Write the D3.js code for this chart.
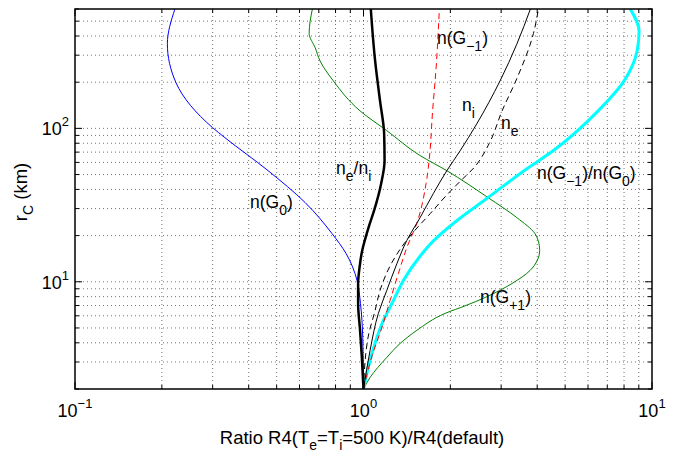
<!DOCTYPE html>
<html><head><meta charset="utf-8">
<script src="https://cdn.jsdelivr.net/npm/d3@7"></script>
<style>
body{margin:0;background:#fff;}
svg text{font-family:"Liberation Sans",Arial,Helvetica,sans-serif;fill:#000;}
</style></head>
<body><svg id="c" width="676" height="454"></svg>
<script>
// r_C values (km) and ratio values for each curve
const nG0_r   = [2, 4.34, 7.22, 10.2, 15.3, 20.6, 32.8, 53, 86.9, 101, 198, 356, 600];
const nG0_x   = [1, 0.994, 0.976, 0.95, 0.87, 0.778, 0.628, 0.467, 0.331, 0.3, 0.224, 0.209, 0.222];

const neni_r  = [2, 3.21, 4.82, 7.22, 9.74, 12.4, 15.3, 23.2, 29.1, 43.6, 61.5, 92.5, 151, 276, 600];
const neni_x  = [1, 0.987, 0.973, 0.958, 0.958, 0.969, 0.985, 1.046, 1.088, 1.151, 1.183, 1.179, 1.141, 1.097, 1.06];

const nGm1_r  = [2, 3.3, 5.0, 7.55, 11.3, 16.7, 24.0, 43.7, 61.6, 130, 248, 600];
const nGm1_x  = [1, 1.071, 1.157, 1.236, 1.321, 1.413, 1.53, 1.648, 1.688, 1.736, 1.785, 1.832];

const ni_r    = [2, 3.57, 6.22, 8.78, 13.1, 18.6, 26.2, 37.6, 53, 71.4, 107, 204, 354, 600];
const ni_x    = [1, 1.054, 1.126, 1.204, 1.305, 1.413, 1.571, 1.746, 1.945, 2.162, 2.469, 2.974, 3.399, 3.789];

const ne_r    = [2, 4.34, 6.5, 8.78, 13.4, 17.7, 20.6, 27.8, 37.6, 45.8, 55.5, 79.5, 130, 213, 415, 600];
const ne_x    = [1, 1.037, 1.097, 1.141, 1.256, 1.382, 1.474, 1.702, 1.965, 2.179, 2.417, 2.725, 3.022, 3.407, 3.881, 4.04];

const ratio_r = [2, 3.08, 5.6, 7.55, 10.2, 14.4, 18.6, 25.1, 35.4, 53, 71.4, 130, 204, 320, 431, 600];
const ratio_x = [1, 1.054, 1.172, 1.27, 1.375, 1.558, 1.754, 2.11, 2.703, 3.603, 4.542, 6.506, 8.005, 8.88, 9.02, 8.4];

const nGp1_r  = [2, 2.38, 3.21, 3.96, 4.82, 6.22, 7.01, 7.9, 9.75, 11.85, 13.76, 16.0, 18.6, 20.6, 26.2, 35.4, 53, 66.5, 96.7, 130, 204, 275, 336, 415, 600];
const nGp1_x  = [1, 1.054, 1.204, 1.339, 1.53, 1.918, 2.268, 2.64, 3.274, 3.78, 4.0, 4.08, 4.03, 3.93, 3.4, 2.7, 1.944, 1.571, 1.204, 0.973, 0.786, 0.707, 0.68, 0.648, 0.665];

const xMajor = [0.1, 1, 10];
const xMajorLabels = ["\u22121", "0", "1"];
const yMajor = [10, 100];
const yMajorLabels = ["1", "2"];

const W = 676, H = 454;
const m = {left: 75, right: 24, top: 9, bottom: 65};
const svg = d3.select("#c");
const x = d3.scaleLog().domain([0.1, 10]).range([m.left, W - m.right]);
const y = d3.scaleLog().domain([2, 600]).range([H - m.bottom, m.top]);

// minor/major tick values
const xTicks = [];
for (const d of [0.1, 1]) for (let k = 1; k <= 9; k++) xTicks.push(d * k);
xTicks.push(10);
const yTicks = [];
for (const d of [1, 10, 100]) for (let k = 1; k <= 9; k++) { const v = d * k; if (v >= 2 && v <= 600) yTicks.push(v); }

const g = svg.append("g");
// grid
g.selectAll(".gx").data(xTicks.filter(v => v > 0.1 && v < 10)).enter().append("line")
  .attr("x1", d => x(d)).attr("x2", d => x(d)).attr("y1", y(2)).attr("y2", y(600))
  .attr("stroke", "#000").attr("stroke-opacity", 0.55).attr("stroke-width", 1).attr("stroke-dasharray", "1,3");
g.selectAll(".gy").data(yTicks.filter(v => v > 2 && v < 600)).enter().append("line")
  .attr("y1", d => y(d)).attr("y2", d => y(d)).attr("x1", x(0.1)).attr("x2", x(10))
  .attr("stroke", "#000").attr("stroke-opacity", 0.55).attr("stroke-width", 1).attr("stroke-dasharray", "1,3");

// curves
const line = (xs, rs) => d3.line().curve(d3.curveMonotoneY)
  .x((d, i) => x(xs[i])).y((d, i) => y(rs[i]))(rs);
const curves = [
  {xs: nG0_x, rs: nG0_r, c: "#0000ff", w: 1, dash: null},
  {xs: nGp1_x, rs: nGp1_r, c: "#007f00", w: 1, dash: null},
  {xs: ratio_x, rs: ratio_r, c: "#00ffff", w: 3, dash: null},
  {xs: nGm1_x, rs: nGm1_r, c: "#ff0000", w: 1, dash: "6,4"},
  {xs: ne_x, rs: ne_r, c: "#000", w: 1, dash: "6,4"},
  {xs: ni_x, rs: ni_r, c: "#000", w: 1, dash: null},
  {xs: neni_x, rs: neni_r, c: "#000", w: 2.5, dash: null}
];
const clip = svg.append("clipPath").attr("id", "clp").append("rect")
  .attr("x", m.left).attr("y", m.top).attr("width", W - m.left - m.right).attr("height", H - m.top - m.bottom);
const cg = svg.append("g").attr("clip-path", "url(#clp)");
curves.forEach(cv => {
  cg.append("path").attr("d", line(cv.xs, cv.rs)).attr("fill", "none")
    .attr("stroke", cv.c).attr("stroke-width", cv.w)
    .attr("stroke-dasharray", cv.dash);
});

// axes box
svg.append("rect").attr("x", m.left).attr("y", m.top).attr("width", W - m.left - m.right)
  .attr("height", H - m.top - m.bottom).attr("fill", "none").attr("stroke", "#000").attr("stroke-width", 1.5);

// ticks (inward, all four sides)
const tl = v => (xMajor.includes(v) ? 7 : 4);
const tg = svg.append("g").attr("stroke", "#000").attr("stroke-width", 1);
xTicks.forEach(v => {
  tg.append("line").attr("x1", x(v)).attr("x2", x(v)).attr("y1", y(2)).attr("y2", y(2) - tl(v));
  tg.append("line").attr("x1", x(v)).attr("x2", x(v)).attr("y1", y(600)).attr("y2", y(600) + tl(v));
});
yTicks.forEach(v => {
  const L = yMajor.includes(v) ? 7 : 4;
  tg.append("line").attr("y1", y(v)).attr("y2", y(v)).attr("x1", x(0.1)).attr("x2", x(0.1) + L);
  tg.append("line").attr("y1", y(v)).attr("y2", y(v)).attr("x1", x(10)).attr("x2", x(10) - L);
});

// tick labels
xMajor.forEach((v, i) => {
  const t = svg.append("text").attr("x", x(v)).attr("y", 417).attr("text-anchor", "middle").attr("font-size", 18);
  t.append("tspan").text("10");
  t.append("tspan").attr("dy", -9).attr("font-size", 13).text(xMajorLabels[i]);
});
yMajor.forEach((v, i) => {
  const t = svg.append("text").attr("x", 69).attr("y", y(v) + 7).attr("text-anchor", "end").attr("font-size", 18);
  t.append("tspan").text("10");
  t.append("tspan").attr("dy", -9).attr("font-size", 13).text(yMajorLabels[i]);
});

// axis titles
const xt = svg.append("text").attr("x", 362).attr("y", 444).attr("text-anchor", "middle").attr("font-size", 18.5);
xt.append("tspan").text("Ratio R4(T");
xt.append("tspan").attr("dy", 6).attr("font-size", 14).text("e");
xt.append("tspan").attr("dy", -6).text("=T");
xt.append("tspan").attr("dy", 6).attr("font-size", 14).text("i");
xt.append("tspan").attr("dy", -6).text("=500 K)/R4(default)");

const yt = svg.append("text").attr("transform", "translate(27,192) rotate(-90)").attr("text-anchor", "middle").attr("font-size", 18.5);
yt.append("tspan").text("r");
yt.append("tspan").attr("dy", 6).attr("font-size", 14).text("C");
yt.append("tspan").attr("dy", -6).text(" (km)");

// curve labels
function label(px, py, parts) {
  const t = svg.append("text").attr("x", px).attr("y", py).attr("font-size", 17.5);
  let sub = false;
  parts.forEach(p => {
    if (p.sub) { t.append("tspan").attr("dy", 7).attr("font-size", 14).text(p.s); sub = true; }
    else { t.append("tspan").attr("dy", sub ? -7 : 0).text(p.s); sub = false; }
  });
}
label(437, 44, [{s: "n(G"}, {s: "\u22121", sub: true}, {s: ")"}]);
label(462, 111, [{s: "n"}, {s: "i", sub: true}]);
label(501, 129, [{s: "n"}, {s: "e", sub: true}]);
label(336, 174, [{s: "n"}, {s: "e", sub: true}, {s: "/n"}, {s: "i", sub: true}]);
label(537, 179, [{s: "n(G"}, {s: "\u22121", sub: true}, {s: ")/n(G"}, {s: "0", sub: true}, {s: ")"}]);
label(250, 208, [{s: "n(G"}, {s: "0", sub: true}, {s: ")"}]);
label(480, 303, [{s: "n(G"}, {s: "+1", sub: true}, {s: ")"}]);
</script></body></html>
